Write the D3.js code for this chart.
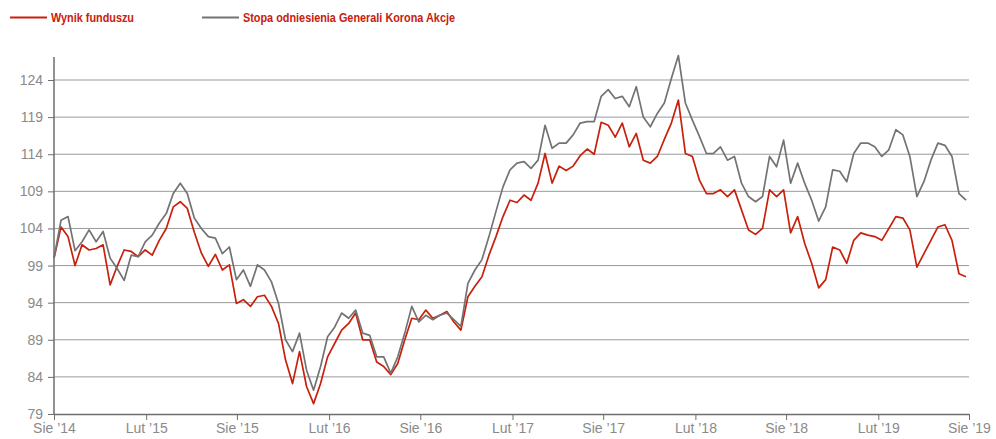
<!DOCTYPE html>
<html>
<head>
<meta charset="utf-8">
<script src="https://cdn.jsdelivr.net/npm/d3@7"></script>
<style>
  body { margin: 0; background: #fff; }
  svg { display: block; }
</style>
</head>
<body>
<div id="chart"></div>
<script>
// two-weekly readings, first one on 1 Aug 2014
const startDate = new Date(2014, 7, 1)
const stepDays = 14

const seriesNames = ['Wynik funduszu', 'Stopa odniesienia Generali Korona Akcje']

const fund = [
  100.0, 104.2, 102.9, 99.0, 101.8, 101.1, 101.3, 101.8, 96.4, 98.9,
  101.1, 100.9, 100.2, 101.1, 100.4, 102.4, 104.0, 106.9, 107.6, 106.7,
  103.5, 100.7, 98.9, 100.5, 98.4, 99.1, 93.9, 94.4, 93.5, 94.8,
  95.0, 93.5, 91.2, 86.3, 83.1, 87.4, 82.7, 80.4, 83.1, 86.7,
  88.5, 90.3, 91.2, 92.6, 89.0, 89.0, 86.0, 85.4, 84.3, 85.8,
  89.0, 91.9, 91.7, 93.0, 91.9, 92.3, 92.8, 91.4, 90.3, 94.8,
  96.2, 97.5, 100.4, 102.9, 105.6, 107.8, 107.5, 108.5, 107.8, 110.1,
  114.1, 110.1, 112.4, 111.8, 112.4, 113.8, 114.7, 114.0, 118.3, 117.9,
  116.3, 118.2, 115.0, 116.8, 113.2, 112.8, 113.7, 116.0, 118.2, 121.3,
  114.1, 113.7, 110.5, 108.7, 108.7, 109.2, 108.3, 109.2, 106.5, 103.8,
  103.2, 104.0, 109.2, 108.3, 109.2, 103.4, 105.6, 102.0, 99.3, 96.0,
  97.1, 101.5, 101.1, 99.3, 102.4, 103.4, 103.1, 102.9, 102.4, 104.0,
  105.6, 105.4, 103.8, 98.8, 100.6, 102.4, 104.2, 104.5, 102.4, 97.9,
  97.5
]

const benchmark = [
  100.0, 105.1, 105.6, 101.0, 102.2, 103.8, 102.2, 103.6, 100.0, 98.6,
  97.0, 100.4, 100.2, 102.2, 103.1, 104.7, 106.0, 108.7, 110.1, 108.7,
  105.4, 104.0, 102.9, 102.7, 100.6, 101.5, 97.1, 98.4, 96.2, 99.1,
  98.4, 96.8, 93.9, 89.0, 87.4, 89.9, 84.9, 82.2, 85.4, 89.4,
  90.7, 92.6, 91.9, 93.0, 89.9, 89.6, 86.7, 86.7, 84.5, 86.7,
  89.9, 93.5, 91.4, 92.3, 91.7, 92.3, 92.6, 91.7, 90.8, 96.6,
  98.4, 99.8, 102.9, 106.3, 109.6, 111.9, 112.8, 113.0, 112.1, 113.2,
  117.9, 114.8, 115.5, 115.5, 116.6, 118.2, 118.4, 118.4, 121.8, 122.7,
  121.5, 121.8, 120.4, 123.1, 119.0, 117.7, 119.5, 120.9, 124.2, 127.3,
  120.9, 118.6, 116.4, 114.1, 114.1, 115.0, 113.2, 113.7, 110.1, 108.3,
  107.6, 108.3, 113.7, 112.3, 115.9, 110.1, 112.8, 110.1, 107.8, 105.0,
  106.9, 111.9, 111.7, 110.3, 114.1, 115.5, 115.5, 115.0, 113.7, 114.6,
  117.3, 116.6, 113.7, 108.3, 110.3, 113.2, 115.5, 115.2, 113.7, 108.7,
  107.8
]

const yTicks = [79, 84, 89, 94, 99, 104, 109, 114, 119, 124]
const xTickDates = ['2014-08-01', '2015-02-01', '2015-08-01', '2016-02-01', '2016-08-01',
  '2017-02-01', '2017-08-01', '2018-02-01', '2018-08-01', '2019-02-01', '2019-08-01']
const xTickLabels = ['Sie \u201914', 'Lut \u201915', 'Sie \u201915', 'Lut \u201916', 'Sie \u201916',
  'Lut \u201917', 'Sie \u201917', 'Lut \u201918', 'Sie \u201918', 'Lut \u201919', 'Sie \u201919']

const W = 996, H = 439
const margin = { left: 54, right: 27, top: 80, bottom: 25 }
const red = '#c8200c', gray = '#737373'

const dates = fund.map((d, i) => d3.timeDay.offset(startDate, i * stepDays))
const parse = d3.timeParse('%Y-%m-%d')
const tickDates = xTickDates.map(parse)

const x = d3.scaleTime()
  .domain([tickDates[0], tickDates[tickDates.length - 1]])
  .range([margin.left, W - margin.right])

const y = d3.scaleLinear()
  .domain([79, 124])
  .range([H - margin.bottom, margin.top])

const svg = d3.select('#chart').append('svg')
  .attr('width', W)
  .attr('height', H)
  .style('font-family', '"Liberation Sans", Arial, sans-serif')

// grid
svg.append('g')
  .selectAll('line')
  .data(yTicks.slice(1))
  .join('line')
    .attr('x1', margin.left).attr('x2', W - margin.right)
    .attr('y1', d => y(d)).attr('y2', d => y(d))
    .attr('stroke', '#9a9a9a')
    .attr('stroke-width', 1)

// lines
const line = (vals) => d3.line()
  .x((d, i) => x(dates[i]))
  .y(d => y(d))(vals)

svg.append('path')
  .attr('d', line(fund))
  .attr('fill', 'none')
  .attr('stroke', red)
  .attr('stroke-width', 1.7)
  .attr('stroke-linejoin', 'round')

svg.append('path')
  .attr('d', line(benchmark))
  .attr('fill', 'none')
  .attr('stroke', gray)
  .attr('stroke-width', 1.7)
  .attr('stroke-linejoin', 'round')

// y axis
const yAxis = svg.append('g')
  .attr('transform', `translate(${margin.left},0)`)
  .call(d3.axisLeft(y).tickValues(yTicks).tickFormat(d3.format('d')).tickSize(6).tickPadding(5))
yAxis.select('.domain').remove()
yAxis.append('line')
  .attr('x1', 0).attr('x2', 0)
  .attr('y1', 57).attr('y2', y(79))
  .attr('stroke', '#6e6e6e').attr('stroke-width', 1.5)

// x axis
const xAxis = svg.append('g')
  .attr('transform', `translate(0,${y(79)})`)
  .call(d3.axisBottom(x).tickValues(tickDates)
    .tickFormat((d, i) => xTickLabels[i]).tickSize(6).tickSizeOuter(0).tickPadding(3))
xAxis.select('.domain').attr('stroke', '#6e6e6e').attr('stroke-width', 1.5)

svg.selectAll('.tick line').attr('stroke', '#6e6e6e')
svg.selectAll('.tick text')
  .attr('fill', '#8a8a8a')
  .style('font-size', '14px')
  .style('font-family', '"Liberation Sans", Arial, sans-serif')

// legend (condensed bold text squeezed to the reference widths)
const legend = svg.append('g')
  .style('font-family', '"Liberation Sans Narrow", "Arial Narrow", sans-serif')
  .style('font-weight', 'bold')
  .style('font-size', '12.5px')

const legendItems = [
  { name: seriesNames[0], color: red, x: 10, w: 83 },
  { name: seriesNames[1], color: gray, x: 202, w: 212 }
]
legendItems.forEach(it => {
  legend.append('line')
    .attr('x1', it.x).attr('x2', it.x + 37)
    .attr('y1', 17.5).attr('y2', 17.5)
    .attr('stroke', it.color).attr('stroke-width', 2)
  legend.append('text')
    .attr('x', it.x + 41).attr('y', 22)
    .attr('fill', red)
    .attr('textLength', it.w)
    .attr('lengthAdjust', 'spacingAndGlyphs')
    .text(it.name)
})
</script>
</body>
</html>
